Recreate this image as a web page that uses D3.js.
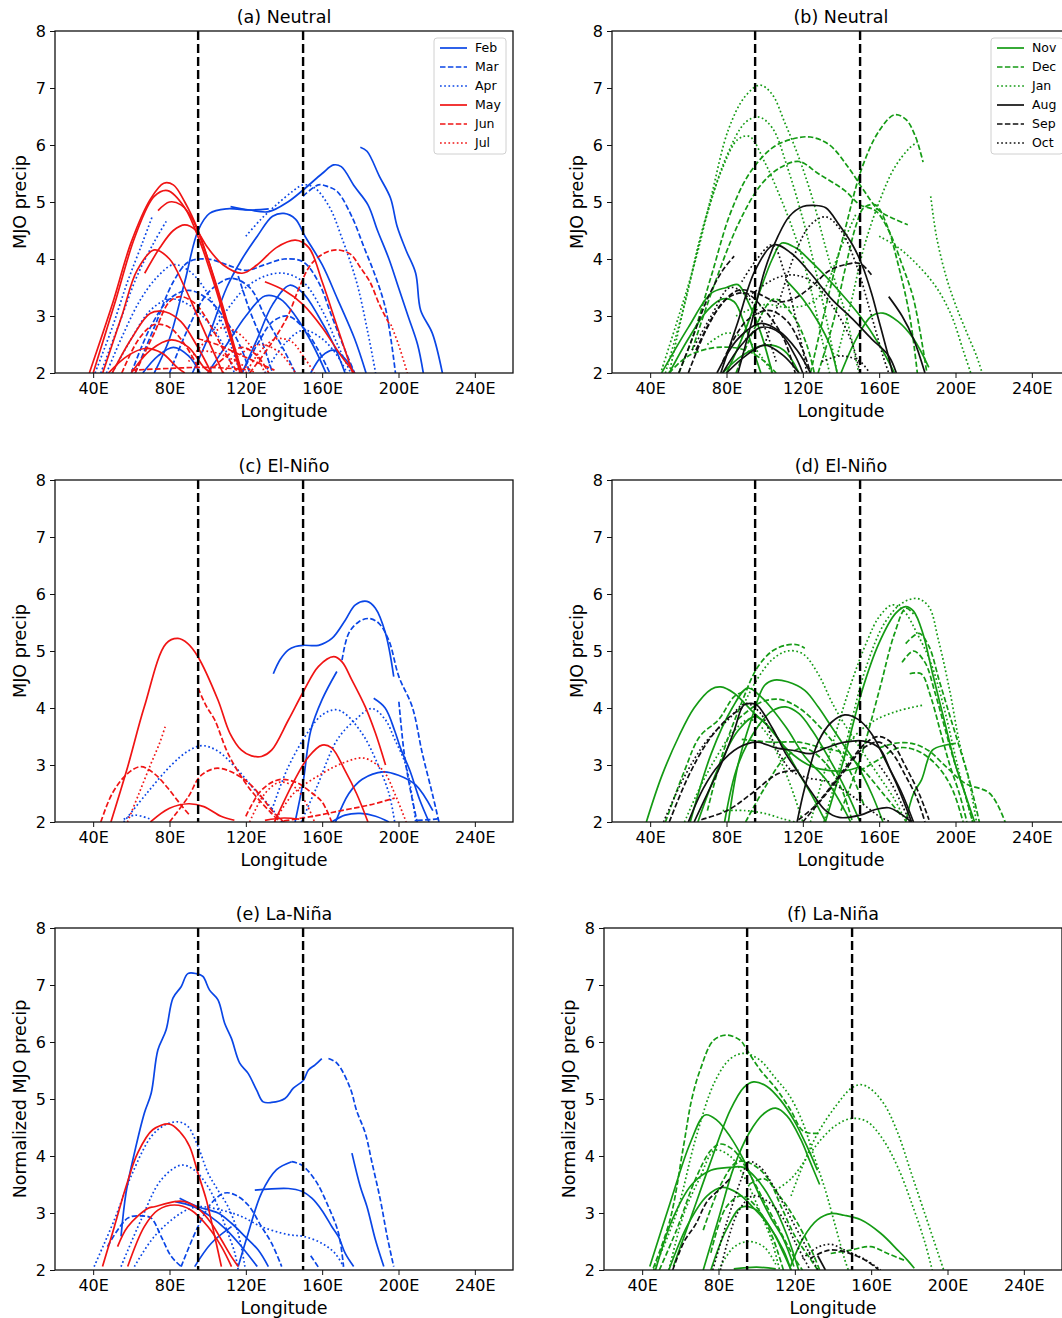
<!DOCTYPE html>
<html>
<head>
<meta charset="utf-8">
<script src="https://cdn.jsdelivr.net/npm/d3@7"></script>
<style>
  body { margin: 0; background: #fff; }
  svg { display: block; font-family: "DejaVu Sans", sans-serif; }
</style>
</head>
<body>
<svg id="chart" width="1062" height="1318"></svg>
<script>
// axis ticks and reference longitudes
var xTicks = [40, 80, 120, 160, 200, 240];
var yTicks = [2, 3, 4, 5, 6, 7, 8];
var refLons = [95, 150];
var springMonths = ['Feb', 'Mar', 'Apr', 'May', 'Jun', 'Jul'];
var winterMonths = ['Nov', 'Dec', 'Jan', 'Aug', 'Sep', 'Oct'];

// each curve: month + [longitude, MJO precip] points
var neutralSpring = [
  {m: 'Feb', p: [[180,5.96],[183.5,5.89],[190,5.45],[195.8,5.07],[199.3,4.57],[204,4.15],[209,3.75],[211.6,3.1],[217.7,2.7],[223,2.0]]},
  {m: 'Feb', p: [[112,4.92],[122,4.86],[132,4.83],[142,5.0],[150,5.21],[160,5.5],[166,5.65],[170,5.62],[177,5.27],[184,4.95],[189,4.5],[195,4.0],[200,3.5],[205,3.0],[210,2.5],[213,2.0]]},
  {m: 'Feb', p: [[72,2.0],[80,2.6],[88,3.6],[95,4.5],[101,4.8],[110,4.88],[122,4.86],[132,4.88]]},
  {m: 'Feb', p: [[92,2.0],[100,2.6],[110,3.5],[118,4.0],[126,4.4],[134,4.75],[140,4.8],[146,4.7],[151,4.4],[160,3.9],[168,3.3],[177,2.6],[183,2.0]]},
  {m: 'Feb', p: [[118,2.0],[126,2.6],[134,3.2],[143,3.54],[150,3.4],[158,3.0],[166,2.5],[172,2.0]]},
  {m: 'Feb', p: [[100,2.0],[110,2.5],[120,3.0],[130,3.35],[138,3.3],[146,3.0],[155,2.5],[162,2.0]]},
  {m: 'Feb', p: [[154,2.0],[160,2.3],[166,2.4],[172,2.25],[177,2.0]]},
  {m: 'Feb', p: [[66,2.0],[74,2.3],[82,2.45],[90,2.3],[96,2.0]]},
  {m: 'Mar', p: [[150,5.1],[158,5.3],[163,5.27],[168,5.18],[175.6,4.74],[182,4.2],[188,3.69],[193,3.16],[196,2.6],[198.4,2.0]]},
  {m: 'Mar', p: [[62,2.0],[72,2.8],[82,3.6],[90,3.95],[100,4.0],[110,3.9],[120,3.8],[130,3.9],[140,4.0],[150,3.95],[158,3.6],[165,3.0],[172,2.4],[177,2.0]]},
  {m: 'Mar', p: [[80,2.0],[90,2.8],[100,3.4],[112,3.66],[122,3.5],[130,3.0],[140,2.4],[146,2.0]]},
  {m: 'Mar', p: [[60,2.0],[70,2.8],[80,3.3],[90,3.45],[100,3.3],[110,2.9],[118,2.4],[122,2.0]]},
  {m: 'Mar', p: [[116,3.7],[122,3.1],[128,2.6],[134,2.0]]},
  {m: 'Mar', p: [[118,2.0],[126,2.5],[134,2.9],[142,3.0],[150,2.8],[158,2.4],[164,2.0]]},
  {m: 'Apr', p: [[120,4.4],[128,4.7],[136,4.95],[145,5.2],[150,5.3],[156,5.25],[164,4.9],[170,4.4],[178,3.6],[184,2.7],[188,2.0]]},
  {m: 'Apr', p: [[100,2.6],[110,3.1],[120,3.5],[130,3.7],[140,3.75],[150,3.6],[160,3.1],[168,2.5],[175,2.0]]},
  {m: 'Apr', p: [[41,2.0],[50,2.8],[58,3.6],[66,4.3],[71,4.75]]},
  {m: 'Apr', p: [[44,2.0],[54,2.9],[63,3.7],[72,4.3],[79,4.7]]},
  {m: 'Apr', p: [[47,2.0],[56,2.7],[65,3.3],[74,3.7],[82,3.9],[90,3.8],[98,3.5],[106,3.0],[112,2.5],[117,2.0]]},
  {m: 'Apr', p: [[50,2.0],[60,2.6],[70,3.1],[80,3.3],[90,3.2],[100,2.9],[108,2.5],[114,2.0]]},
  {m: 'Apr', p: [[130,2.0],[140,2.5],[150,2.75],[160,2.6],[168,2.3],[173,2.0]]},
  {m: 'May', p: [[38,2.0],[50,3.2],[60,4.3],[70,5.05],[77,5.33],[82,5.3],[88,5.0],[95,4.5],[102,3.8],[109,3.0],[113,2.5],[117,2.0]]},
  {m: 'May', p: [[40,2.0],[52,3.3],[62,4.4],[72,5.1],[79,5.2],[88,4.9],[96,4.3],[104,3.5],[112,2.6],[118,2.0]]},
  {m: 'May', p: [[74,4.85],[80,5.0],[86,4.95],[92,4.7],[98,4.2],[105,3.5],[112,2.7],[118,2.0]]},
  {m: 'May', p: [[67,3.75],[75,4.2],[82,4.5],[88,4.6],[94,4.5],[100,4.2],[108,3.9],[118,3.75],[126,3.9],[136,4.2],[146,4.33],[153,4.2],[160,3.6],[168,2.8],[176,2.0]]},
  {m: 'May', p: [[45,2.0],[55,3.0],[63,3.8],[72,4.16],[80,4.0],[88,3.5],[96,2.9],[104,2.3],[108,2.0]]},
  {m: 'May', p: [[50,2.0],[60,2.6],[70,3.05],[78,3.07],[86,2.9],[94,2.5],[102,2.0]]},
  {m: 'May', p: [[60,2.0],[70,2.4],[81,2.58],[90,2.45],[98,2.1],[102,2.0]]},
  {m: 'May', p: [[48,2.0],[58,2.3],[67,2.43],[76,2.35],[84,2.1],[88,2.0]]},
  {m: 'May', p: [[130,3.6],[140,3.45],[150,3.2],[160,2.8],[170,2.3],[177,2.0]]},
  {m: 'Jun', p: [[122,2.0],[133,2.5],[142,3.0],[148,3.5],[154,3.9],[161,4.1],[168,4.16],[175,4.08],[180,3.85],[185,3.6],[190,3.2],[195,2.87]]},
  {m: 'Jun', p: [[62,2.0],[72,2.7],[80,3.25],[86,3.34],[94,3.2],[102,2.8],[110,2.3],[116,2.0]]},
  {m: 'Jun', p: [[55,2.0],[64,2.6],[72,2.85],[80,2.8],[88,2.5],[95,2.1]]},
  {m: 'Jun', p: [[60,2.05],[80,2.08],[100,2.1],[120,2.06]]},
  {m: 'Jun', p: [[95,2.6],[105,2.5],[115,2.35],[125,2.2],[135,2.05]]},
  {m: 'Jun', p: [[100,2.0],[110,2.3],[118,2.45],[126,2.3],[132,2.0]]},
  {m: 'Jul', p: [[120,2.0],[128,2.4],[136,2.6],[144,2.55],[150,2.3],[156,2.0]]},
  {m: 'Jul', p: [[90,2.2],[100,2.6],[108,2.8],[116,2.7],[124,2.4],[130,2.0]]},
  {m: 'Jul', p: [[196,2.85],[200,2.5],[204.6,2.0]]},
  {m: 'Jul', p: [[95,2.4],[105,2.35],[115,2.2],[125,2.0]]},
  {m: 'Jul', p: [[108,2.0],[118,2.35],[128,2.5],[138,2.35],[146,2.0]]}
];

var neutralWinter = [
  {m: 'Nov', p: [[80,2.0],[88,2.6],[96,3.3],[104,4.0],[109,4.28],[116,4.2],[126,3.9],[140,3.4],[150,3.0],[160,2.5],[168,2.0]]},
  {m: 'Nov', p: [[46,2.0],[60,2.8],[72,3.4],[80,3.5],[86,3.55],[92,3.2],[98,2.7],[104,2.0]]},
  {m: 'Nov', p: [[140,2.0],[148,2.6],[156,3.0],[162,3.05],[170,2.9],[178,2.6],[186,2.1]]},
  {m: 'Nov', p: [[78,2.0],[88,2.3],[100,2.49],[110,2.4],[118,2.0]]},
  {m: 'Nov', p: [[50,2.0],[60,2.6],[70,3.1],[78,3.3],[84,3.25],[90,2.8],[96,2.2],[98,2.0]]},
  {m: 'Nov', p: [[112,3.6],[120,3.3],[128,2.9],[134,2.5],[138,2.0]]},
  {m: 'Dec', p: [[124,2.0],[133,3.3],[142,4.5],[151,5.6],[160,6.25],[168,6.53],[174,6.45],[179,6.15],[183,5.7]]},
  {m: 'Dec', p: [[55,2.0],[62,2.6],[72,3.7],[82,4.8],[92,5.5],[104,5.95],[114,6.1],[124,6.14],[134,6.0],[144,5.6],[152,5.2],[160,4.85],[168,4.7],[175,4.6]]},
  {m: 'Dec', p: [[62,2.4],[72,3.4],[86,4.6],[98,5.3],[108,5.6],[118,5.71],[128,5.5],[142,5.2],[150,4.95],[158,4.85],[165,4.5],[172,3.9],[178,3.3],[185,2.0]]},
  {m: 'Dec', p: [[128,2.0],[136,2.9],[142,3.8],[148,4.6],[152,4.9],[158,4.95],[164,4.6],[170,3.9],[176,3.0],[180,2.0]]},
  {m: 'Dec', p: [[50,2.0],[60,2.3],[75,2.45],[90,2.4],[100,2.2],[106,2.0]]},
  {m: 'Dec', p: [[85,2.0],[95,2.8],[105,3.3],[115,3.0],[122,2.5],[126,2.0]]},
  {m: 'Jan', p: [[46,2.05],[55,3.0],[63.3,3.92],[72,5.1],[81,6.27],[89.7,6.85],[97.5,7.05],[103.7,6.9],[110.7,6.38],[117.7,5.8],[124.7,5.1],[131.8,4.22],[137,3.6],[142.3,3.05],[149.3,2.0]]},
  {m: 'Jan', p: [[50,2.0],[60,3.5],[70,4.8],[80,5.8],[90,6.4],[97,6.49],[104,6.3],[112,5.6],[120,4.7],[126,3.9],[132,3.0],[138,2.0]]},
  {m: 'Jan', p: [[48,2.0],[58,3.2],[68,4.6],[78,5.6],[86,6.1],[92,6.15],[100,5.7],[108,5.1],[116,4.4],[124,3.5],[130,2.6],[134,2.0]]},
  {m: 'Jan', p: [[138,2.3],[145,3.2],[152,4.2],[160,5.0],[168,5.6],[176,5.95],[180,6.05]]},
  {m: 'Jan', p: [[187,5.1],[190,4.4],[195,3.7],[200,3.2],[206,2.7],[211,2.3],[214,2.0]]},
  {m: 'Jan', p: [[160,4.4],[170,4.2],[180,3.9],[190,3.5],[198,3.0],[204,2.4],[208,2.0]]},
  {m: 'Jan', p: [[85,3.0],[100,3.2],[112,3.15],[122,3.2],[130,3.4],[140,4.2],[148,4.8]]},
  {m: 'Jan', p: [[70,2.5],[80,2.7],[90,2.6],[98,2.3],[104,2.0]]},
  {m: 'Aug', p: [[86,2.0],[94,3.0],[100,3.8],[107,4.4],[113,4.75],[120,4.92],[126,4.94],[132,4.9],[139,4.6],[146,4.25],[151,3.9],[156,3.4],[160,2.9],[164,2.4],[167,2.0]]},
  {m: 'Aug', p: [[77,2.0],[86,2.9],[95,3.8],[105,4.25],[114,4.1],[124,3.75],[135,3.3],[146,2.95],[156,2.6],[165,2.3],[169,2.0]]},
  {m: 'Aug', p: [[75,2.0],[86,2.6],[98,2.87],[107,2.75],[117,2.4],[124,2.0]]},
  {m: 'Aug', p: [[80,2.0],[90,2.3],[100,2.49],[110,2.3],[118,2.0]]},
  {m: 'Aug', p: [[165,3.34],[172,3.0],[178,2.6],[184,2.0]]},
  {m: 'Aug', p: [[78,2.0],[88,2.5],[98,2.8],[108,2.7],[116,2.3],[120,2.0]]},
  {m: 'Sep', p: [[64,2.4],[75,3.1],[86,3.45],[96,3.4],[106,3.25],[115,3.3],[124,3.5],[134,3.8],[142,3.9],[150,3.92],[156,3.72]]},
  {m: 'Sep', p: [[55,2.0],[62,2.6],[70,3.3],[78,3.8],[84,4.05]]},
  {m: 'Sep', p: [[78,2.2],[90,2.9],[102,3.1],[112,2.9],[120,2.4],[124,2.0]]},
  {m: 'Sep', p: [[60,2.0],[70,2.8],[80,3.3],[90,3.4],[100,3.1],[110,2.6],[116,2.0]]},
  {m: 'Oct', p: [[100,2.5],[108,3.3],[116,4.1],[124,4.6],[132,4.74],[140,4.5],[148,3.9],[156,3.0],[162,2.3],[165,2.0]]},
  {m: 'Oct', p: [[88,3.6],[96,4.0],[104,4.25],[110,3.8],[116,3.0],[120,2.4],[122,2.0]]},
  {m: 'Oct', p: [[90,3.3],[105,3.65],[115,3.72],[125,3.6],[135,3.2],[145,2.6],[150,2.0]]},
  {m: 'Oct', p: [[62,2.4],[72,3.0],[82,3.5],[92,3.3],[100,2.8],[106,2.2]]},
  {m: 'Oct', p: [[130,2.2],[140,2.3],[150,2.2],[155,2.0]]}
];

var elninoSpring = [
  {m: 'Feb', p: [[134.4,4.6],[138,4.85],[142.3,5.02],[146,5.08],[150.2,5.1],[158.1,5.1],[165.1,5.22],[172.1,5.54],[177.4,5.81],[183.5,5.87],[187.9,5.75],[193.2,5.31],[197.5,4.55]]},
  {m: 'Feb', p: [[145.8,2.0],[150,2.7],[154,3.6],[160,4.15],[167.7,4.64]]},
  {m: 'Feb', p: [[187,4.17],[193,4.0],[198,3.6],[201,3.3],[206,2.9],[211,2.4],[216,2.0]]},
  {m: 'Feb', p: [[167,2.0],[174,2.5],[181,2.75],[192,2.88],[200,2.82],[209,2.65],[218,2.2]]},
  {m: 'Feb', p: [[165,2.0],[172,2.12],[180,2.15],[188,2.1],[195,2.0]]},
  {m: 'Mar', p: [[170.4,4.84],[173.9,5.31],[179.1,5.51],[184.4,5.57],[189.6,5.49],[194.9,5.19],[200.2,4.55],[207.2,4.02],[212.5,3.2],[217.7,2.5],[221.2,2.0]]},
  {m: 'Mar', p: [[200.2,4.11],[203,3.2],[206,2.6],[209.8,2.0]]},
  {m: 'Mar', p: [[209.8,2.03],[216,2.04],[221.2,2.06]]},
  {m: 'Apr', p: [[56,2.0],[68,2.5],[81,3.0],[90,3.25],[97,3.34],[105,3.25],[114,2.98],[125,2.55],[132,2.3],[139,2.0]]},
  {m: 'Apr', p: [[133,2.15],[142,2.95],[153,3.6],[160,3.88],[167,3.97],[172,3.9],[181,3.55],[188,3.1],[195,2.5],[198,2.0]]},
  {m: 'Apr', p: [[149,2.0],[157,2.6],[168,3.45],[177,3.78],[186,3.99],[193,3.8],[198,3.45],[204,2.98],[209,2.0]]},
  {m: 'Apr', p: [[56,2.05],[62,2.12],[70,2.05]]},
  {m: 'May', p: [[49.3,2.0],[58.1,2.97],[66.8,4.02],[78.2,5.13],[84.4,5.22],[89.6,5.13],[94.9,4.9],[105.4,4.14],[111.6,3.56],[117.7,3.26],[123,3.16],[128.2,3.15],[133.5,3.26],[142.3,3.79],[150.2,4.29],[158.1,4.73],[166,4.9],[170.4,4.81],[175.6,4.49],[182.6,4.02],[187.9,3.56],[193.2,3.0]]},
  {m: 'May', p: [[135,2.0],[145,2.7],[153,3.15],[160,3.35],[165,3.3],[172,2.9],[178,2.5],[184,2.0]]},
  {m: 'May', p: [[70,2.0],[80,2.24],[90,2.32],[98,2.27],[107,2.1],[114,2.03]]},
  {m: 'May', p: [[130,2.03],[140,2.07],[148,2.05]]},
  {m: 'Jun', p: [[44,2.0],[50,2.5],[58,2.85],[65,2.97],[72,2.85],[79,2.6],[86,2.3],[91,2.1]]},
  {m: 'Jun', p: [[80,2.0],[90,2.45],[96,2.8],[104,2.94],[111,2.9],[121,2.7],[128,2.45],[135,2.15],[140,2.0]]},
  {m: 'Jun', p: [[95,4.35],[99,4.05],[103.7,3.79],[110.7,3.2],[121.2,2.62],[133.5,2.15],[138,2.0]]},
  {m: 'Jun', p: [[120,2.1],[128,2.55],[137,2.74],[146,2.7],[155,2.5],[160,2.35],[165,2.0]]},
  {m: 'Jun', p: [[140,2.02],[155,2.1],[170,2.2],[185,2.3],[198,2.42]]},
  {m: 'Jul', p: [[58,2.0],[64,2.5],[70,3.0],[75,3.4],[78,3.7]]},
  {m: 'Jul', p: [[135,2.0],[145,2.5],[160,2.85],[172,3.05],[182,3.12],[192,2.9],[198,2.5],[204,2.0]]},
  {m: 'Jul', p: [[122,2.0],[130,2.5],[138,2.7],[146,2.6],[152,2.3],[156,2.0]]}
];

var elninoWinter = [
  {m: 'Nov', p: [[38,2.0],[46,2.8],[55,3.5],[63,4.0],[72,4.33],[77,4.37],[84,4.26],[93,3.96],[102,3.67],[111,3.3],[118,3.1],[125,2.97],[134,2.9],[142,2.9],[150,2.97]]},
  {m: 'Nov', p: [[81,2.0],[86,3.0],[93,3.8],[100,4.4],[105,4.49],[112,4.46],[121,4.31],[128,4.02],[135,3.67],[142,3.32],[149,2.97],[156,2.5],[162,2.0]]},
  {m: 'Nov', p: [[61,2.0],[72,3.2],[83,4.0],[91,4.35],[98,4.2],[111,3.67],[121,3.15],[132,2.75],[142,2.2],[145,2.0]]},
  {m: 'Nov', p: [[79,2.0],[86,3.0],[97,3.7],[104,3.95],[111,4.02],[118,3.9],[125,3.6],[134,3.1],[142,2.6],[150,2.0]]},
  {m: 'Nov', p: [[65,2.0],[76,2.97],[86,3.6],[95,3.85],[104,3.6],[111,3.26],[118,2.85],[125,2.45],[132,2.0]]},
  {m: 'Nov', p: [[131.8,2.0],[142.3,3.2],[151,4.3],[159.8,5.13],[168.6,5.66],[173.9,5.78],[178,5.7],[183,5.3],[188,4.6],[194,3.8],[200,3.0],[206,2.4],[210,2.0]]},
  {m: 'Nov', p: [[173.9,2.0],[178,2.5],[182.2,2.74],[187.9,3.26],[194.9,3.35],[200.2,3.38]]},
  {m: 'Dec', p: [[70,2.2],[78,3.2],[88,4.1],[96,4.7],[104,5.0],[111,5.1],[117,5.11],[121,5.05]]},
  {m: 'Dec', p: [[140,2.2],[150,3.1],[160,4.3],[168,5.3],[174,5.75],[178,5.65]]},
  {m: 'Dec', p: [[173.9,5.13],[180.9,5.31],[186.1,5.08],[191.4,4.49],[196.7,3.9],[202,3.32],[207.2,2.74],[212.5,2.0]]},
  {m: 'Dec', p: [[172,4.8],[178,5.0],[184,4.8],[189,4.3],[194,3.7],[199,3.1],[204,2.6],[209,2.0]]},
  {m: 'Dec', p: [[176,4.6],[182,4.6],[187,4.2],[192,3.6],[197,3.0],[202,2.5],[206,2.0]]},
  {m: 'Dec', p: [[160,3.3],[168,3.38],[177,3.38],[186,3.25],[195,2.97],[205,2.68],[218,2.5],[226,2.0]]},
  {m: 'Dec', p: [[86,3.8],[98,4.1],[108,4.15],[118,4.0],[128,3.7],[138,3.3],[146,2.8],[152,2.3]]},
  {m: 'Dec', p: [[88,3.45],[104,3.4],[118,3.4],[130,3.3],[142,3.2],[152,2.9],[162,2.5],[172,2.1]]},
  {m: 'Dec', p: [[48,2.0],[58,2.9],[66,3.5],[76,3.8],[84,4.2],[90,4.3]]},
  {m: 'Dec', p: [[150,2.9],[160,3.1],[170,3.3],[180,3.25],[190,3.0],[198,2.6],[204,2.0]]},
  {m: 'Dec', p: [[90,2.0],[100,2.6],[110,3.1],[120,3.3],[130,3.1],[140,2.6],[146,2.0]]},
  {m: 'Jan', p: [[131,2.0],[142,3.3],[153,4.7],[163,5.5],[172,5.84],[180,5.92],[186,5.78],[191,5.2],[197,4.3],[202,3.4],[207,2.74],[211,2.0]]},
  {m: 'Jan', p: [[124,2.0],[135,3.3],[145,4.4],[154,5.2],[160,5.6],[167,5.81],[173,5.7],[180,5.3],[187,4.8],[194,4.0],[201,3.0],[209,2.0]]},
  {m: 'Jan', p: [[88,4.0],[96,4.5],[104,4.85],[112,5.0],[120,4.95],[128,4.6],[136,4.05],[144,3.6],[152,3.2],[160,2.8],[168,2.4],[174,2.0]]},
  {m: 'Jan', p: [[142,3.32],[150,3.6],[158,3.79],[170,3.95],[183,4.05]]},
  {m: 'Jan', p: [[78,2.2],[90,2.2],[100,2.15],[110,2.05],[116,2.0]]},
  {m: 'Jan', p: [[58,2.0],[66,2.6],[74,3.1],[84,3.6],[92,3.8],[100,3.6],[108,3.1],[114,2.6],[120,2.0]]},
  {m: 'Aug', p: [[63,2.0],[70,2.5],[77,3.0],[84,3.6],[89,4.05],[93,4.08],[96,4.05],[104,3.65],[111,3.2],[118,2.85],[125,2.5],[132,2.2],[139,2.08],[150,2.12],[158,2.22],[165,2.25],[171,2.15],[177,2.0]]},
  {m: 'Aug', p: [[117,2.0],[121,2.6],[128,3.4],[135,3.75],[142,3.88],[149,3.8],[156,3.55],[163,3.1],[170,2.6],[177,2.0]]},
  {m: 'Aug', p: [[60,2.0],[68,2.6],[76,3.0],[86,3.3],[96,3.4],[106,3.3],[116,3.25],[124,3.2],[132,3.3],[142,3.4],[152,3.42],[160,3.3],[166,2.9],[172,2.5],[178,2.0]]},
  {m: 'Sep', p: [[66.8,2.04],[80.9,2.21],[93.2,2.5],[107.2,2.85],[117.7,2.91]]},
  {m: 'Sep', p: [[117.7,2.04],[126,2.27],[140,2.85],[152.8,3.38],[159.8,3.5],[166.8,3.38],[173.9,2.97],[180.9,2.5],[186.1,2.04]]},
  {m: 'Sep', p: [[120,2.0],[130,2.4],[142,2.9],[152,3.3],[160,3.4],[167,3.2],[174,2.8],[180,2.4],[184,2.0]]},
  {m: 'Sep', p: [[50,2.0],[60,2.8],[70,3.4],[80,3.8],[88,4.0]]},
  {m: 'Oct', p: [[47,2.0],[58,2.8],[70,3.44],[81,3.8],[90,4.08],[98,3.9],[106,3.3],[114,2.9],[122,2.78],[134,2.7],[144,2.5],[152,2.3],[160,2.1],[166,2.0]]},
  {m: 'Oct', p: [[160,3.0],[166,2.7],[172,2.3],[176,2.0]]}
];

var laninaSpring = [
  {m: 'Feb', p: [[54.6,2.59],[57.2,3.35],[61.6,4.05],[66.8,4.75],[70.4,5.1],[73.9,5.86],[78.2,6.21],[81.8,6.77],[86.1,6.97],[89.6,7.2],[94,7.2],[97.5,7.15],[101,6.91],[105.4,6.74],[108.9,6.33],[112.5,6.06],[116.8,5.63],[121.2,5.45],[125.6,5.16],[129.1,4.95],[133.5,4.94],[140.5,5.01],[144.9,5.19],[150.2,5.33],[152.8,5.51],[156.3,5.6],[159.8,5.71]]},
  {m: 'Feb', p: [[124.7,3.4],[142.3,3.43],[149.3,3.38],[154.6,3.26],[159.8,3.05],[165.1,2.76],[168.6,2.58],[172.1,2.29],[176.5,2.06]]},
  {m: 'Feb', p: [[116,2.06],[121.2,2.64],[128.2,3.35],[136.1,3.76],[144,3.9]]},
  {m: 'Feb', p: [[175.6,4.05],[180,3.46],[183.5,3.11],[187.9,2.53],[192.3,2.06]]},
  {m: 'Feb', p: [[85.3,3.26],[94.9,3.11],[105.4,3.0],[112.5,2.82],[119.5,2.59],[126.5,2.35],[131.8,2.06]]},
  {m: 'Feb', p: [[83,3.2],[92,3.12],[101,2.95],[110,2.7],[118,2.4],[126,2.06]]},
  {m: 'Feb', p: [[93.2,2.06],[101.9,2.47],[112.5,2.76]]},
  {m: 'Mar', p: [[163.3,5.71],[167.7,5.63],[174.7,5.19],[178,4.8],[182.6,4.4],[186,3.9],[190.5,3.23],[194,2.6],[197.5,2.06]]},
  {m: 'Mar', p: [[47.5,2.41],[58.1,2.91],[65.1,2.95],[70.4,2.91],[75.6,2.59],[80.9,2.24],[86.1,2.06]]},
  {m: 'Mar', p: [[86.1,2.06],[94.9,2.76],[101.9,3.17],[108.9,3.35],[114.2,3.32],[121.2,3.14],[128.2,2.76],[133.5,2.47],[138.8,2.06]]},
  {m: 'Mar', p: [[144,3.9],[149.3,3.84],[156.3,3.58],[163.3,3.11],[168.6,2.64],[171.2,2.06]]},
  {m: 'Mar', p: [[154,2.25],[158,2.05]]},
  {m: 'Apr', p: [[40.5,2.06],[51.1,2.88],[59.8,3.64],[70.4,4.34],[77.4,4.54],[84.4,4.6],[89.6,4.52],[94.9,4.17],[100.2,3.7],[105.4,3.4],[110.7,3.11],[116,2.64],[119.5,2.06]]},
  {m: 'Apr', p: [[54.6,2.06],[65.1,2.88],[75.6,3.58],[86.1,3.84],[93.2,3.75],[100.2,3.46],[105.4,3.11],[110,2.7],[114.2,2.3],[116,2.0]]},
  {m: 'Apr', p: [[61.6,2.06],[72.1,2.59],[86.1,3.0],[94.9,3.11],[107.2,3.05],[117.7,2.94],[128.2,2.76],[142.3,2.62],[150.2,2.59],[159.8,2.47],[166.8,2.29],[171.2,2.06]]},
  {m: 'May', p: [[44.9,2.06],[51.1,2.76],[57.2,3.46],[63.3,4.05],[71.2,4.46],[80,4.56],[85.3,4.43],[90.5,4.17],[94.9,3.7],[99.3,3.23],[103.7,2.59],[107.2,2.06]]},
  {m: 'May', p: [[52.8,2.41],[58.1,2.76],[68.6,3.08],[72.1,3.11],[82.6,3.2],[87.9,3.2],[94.9,3.08],[101.9,2.82],[107.2,2.53],[112.5,2.23],[116,2.06]]},
  {m: 'May', p: [[58.1,2.06],[66.8,2.76],[73.9,3.05],[82.6,3.14],[91.4,3.05],[100.2,2.76],[107.2,2.41],[112.5,2.06]]}
];

var laninaWinter = [
  {m: 'Nov', p: [[56.3,2.06],[65.1,2.88],[75.6,3.87],[86.1,4.8],[93.2,5.2],[98.4,5.3],[105.4,5.22],[112.5,4.98],[119.5,4.63],[126.5,4.16],[131.8,3.75]]},
  {m: 'Nov', p: [[72,2.0],[80,2.9],[88,3.8],[96,4.4],[104,4.75],[110,4.84],[116,4.7],[123,4.3],[128,3.9],[133,3.5]]},
  {m: 'Nov', p: [[44,2.06],[54.6,3.17],[65.1,4.22],[73,4.72],[79.1,4.63],[86.1,4.34],[93.2,3.93],[100.2,3.4],[107.2,2.93],[114.2,2.53],[119.5,2.06]]},
  {m: 'Nov', p: [[47,2.0],[56,2.9],[66,3.5],[76,3.75],[86,3.8],[93,3.8],[100,3.6],[108,3.2],[116,2.6],[122,2.0]]},
  {m: 'Nov', p: [[54,2.0],[64,2.8],[74,3.3],[82,3.45],[90,3.35],[98,3.1],[106,2.8],[114,2.35],[118,2.0]]},
  {m: 'Nov', p: [[76,2.0],[84,2.7],[92,3.1],[100,3.05],[108,2.7],[114,2.3],[118,2.0]]},
  {m: 'Nov', p: [[117.7,2.06],[124.7,2.58],[131.8,2.88],[138.8,2.99],[145.8,2.96],[154.6,2.88],[165.1,2.64],[173.9,2.35],[179.1,2.17],[182.6,2.03]]},
  {m: 'Nov', p: [[88,2.02],[100,2.05],[110,2.02]]},
  {m: 'Dec', p: [[45.8,2.03],[54.6,2.88],[61.6,4.16],[66,5.0],[70.4,5.51],[77.4,6.03],[84.4,6.12],[91.4,6.03],[94.9,5.86],[101.9,5.51],[110.7,5.16],[117.7,4.81],[124.7,4.43],[133.5,4.4]]},
  {m: 'Dec', p: [[49,2.0],[58,2.7],[68,3.6],[76,4.1],[81,4.21],[88,4.1],[96,3.7],[104,3.2],[112,2.7],[120,2.2],[124,2.0]]},
  {m: 'Dec', p: [[72,2.7],[82,3.55],[90,3.9],[98,3.85],[106,3.6],[113,3.1],[120,2.6],[128,2.2],[132,2.0]]},
  {m: 'Dec', p: [[138.8,2.29],[149.3,2.35],[159.8,2.41],[168.6,2.29],[177.4,2.17]]},
  {m: 'Dec', p: [[76,2.3],[84,3.1],[92,3.3],[100,3.1],[108,2.6],[114,2.0]]},
  {m: 'Dec', p: [[96,3.5],[104,3.6],[112,3.3],[120,2.9],[128,2.4],[133,2.0]]},
  {m: 'Jan', p: [[46,2.0],[58,3.0],[68,4.3],[78,5.3],[86,5.7],[93,5.8],[101,5.7],[110,5.36],[117,5.07],[124,4.6],[130,4.0],[136,3.4],[141,2.8],[146,2.2],[148,2.0]]},
  {m: 'Jan', p: [[118,3.3],[125,3.9],[132,4.4],[142,4.9],[150,5.2],[155,5.25],[160,5.17],[167,4.9],[174,4.4],[181,3.7],[188,3.0],[195,2.3],[198,2.0]]},
  {m: 'Jan', p: [[110,3.4],[118,3.6],[126,3.95],[134,4.3],[142,4.55],[150,4.66],[158,4.6],[166,4.3],[174,3.8],[182,3.1],[188,2.5],[192,2.0]]},
  {m: 'Jan', p: [[54,2.0],[62,3.0],[70,3.6],[78,4.1],[86,4.0],[94,3.6],[102,3.0],[108,2.5],[112,2.0]]},
  {m: 'Jan', p: [[80,2.0],[88,2.4],[96,2.5],[104,2.4],[110,2.1]]},
  {m: 'Aug', p: [[132,2.25],[136,2.0]]},
  {m: 'Sep', p: [[56,2.0],[62,2.5],[68,2.8],[74,3.2],[80,3.4],[86,3.6]]},
  {m: 'Sep', p: [[128,2.2],[138,2.35],[148,2.3],[158,2.15],[164,2.0]]},
  {m: 'Oct', p: [[77,2.0],[84,2.8],[92,3.6],[96,3.9],[102,3.8],[110,3.4],[118,2.9],[126,2.4],[132,2.0]]},
  {m: 'Oct', p: [[81,2.0],[90,3.0],[98,3.3],[106,3.2],[114,2.9],[120,2.5],[128,2.0]]},
  {m: 'Oct', p: [[124,2.2],[132,2.4],[139,2.45],[146,2.35],[156,2.2],[165,2.0]]}
];

// ---- styling ----
var BLUE = '#0a46e6', RED = '#f01414', GREEN = '#149b14', BLACK = '#111';
var DASH = '5.5,2.4', DOT = '1.7,2.5';
var monthStyle = {
  Feb: {c: BLUE, d: null}, Mar: {c: BLUE, d: DASH}, Apr: {c: BLUE, d: DOT},
  May: {c: RED, d: null},  Jun: {c: RED, d: DASH},  Jul: {c: RED, d: DOT},
  Nov: {c: GREEN, d: null}, Dec: {c: GREEN, d: DASH}, Jan: {c: GREEN, d: DOT},
  Aug: {c: BLACK, d: null}, Sep: {c: BLACK, d: DASH}, Oct: {c: BLACK, d: DOT}
};

var panels = [
  {title: '(a) Neutral',  ylab: 'MJO precip', x: 55,  y: 31,  curves: neutralSpring, legend: springMonths},
  {title: '(b) Neutral',  ylab: 'MJO precip', x: 612, y: 31,  curves: neutralWinter, legend: winterMonths},
  {title: '(c) El-Niño',  ylab: 'MJO precip', x: 55,  y: 480, curves: elninoSpring},
  {title: '(d) El-Niño',  ylab: 'MJO precip', x: 612, y: 480, curves: elninoWinter},
  {title: '(e) La-Niña',  ylab: 'Normalized MJO precip', x: 55,  y: 928, curves: laninaSpring},
  {title: '(f) La-Niña',  ylab: 'Normalized MJO precip', x: 604, y: 928, curves: laninaWinter}
];
var W = 458, H = 342;

var svg = d3.select('#chart');

var x = d3.scaleLinear().domain([20, 260]).range([0, W]);
var y = d3.scaleLinear().domain([2, 8]).range([H, 0]);
var line = d3.line()
  .x(function (d) { return x(d[0]); })
  .y(function (d) { return y(d[1]); })
  .curve(d3.curveCatmullRom.alpha(0.5));

panels.forEach(function (pn, i) {
  var g = svg.append('g').attr('transform', 'translate(' + pn.x + ',' + pn.y + ')');

  svg.append('clipPath').attr('id', 'clip' + i)
    .append('rect').attr('width', W).attr('height', H);

  var plot = g.append('g').attr('clip-path', 'url(#clip' + i + ')');

  plot.selectAll('path.curve')
    .data(pn.curves)
    .enter().append('path')
    .attr('class', 'curve')
    .attr('d', function (d) { return line(d.p); })
    .attr('fill', 'none')
    .attr('stroke', function (d) { return monthStyle[d.m].c; })
    .attr('stroke-width', 1.7)
    .attr('stroke-dasharray', function (d) { return monthStyle[d.m].d; });

  plot.selectAll('line.ref')
    .data(refLons)
    .enter().append('line')
    .attr('class', 'ref')
    .attr('x1', function (d) { return x(d); })
    .attr('x2', function (d) { return x(d); })
    .attr('y1', 0).attr('y2', H)
    .attr('stroke', '#000')
    .attr('stroke-width', 2.4)
    .attr('stroke-dasharray', '9,4');

  // frame
  g.append('rect').attr('width', W).attr('height', H)
    .attr('fill', 'none').attr('stroke', '#111').attr('stroke-width', 1.3);

  var xa = g.append('g').attr('transform', 'translate(0,' + H + ')')
    .call(d3.axisBottom(x).tickValues(xTicks).tickFormat(function (d) { return d + 'E'; })
      .tickSize(5).tickPadding(5));
  var ya = g.append('g')
    .call(d3.axisLeft(y).tickValues(yTicks).tickFormat(d3.format('d')).tickSize(5).tickPadding(4));
  [xa, ya].forEach(function (a) {
    a.select('.domain').remove();
    a.selectAll('text').attr('font-size', 16).attr('font-family', '"DejaVu Sans", sans-serif').attr('fill', '#000');
    a.selectAll('line').attr('stroke', '#111');
  });

  g.append('text').attr('x', W / 2).attr('y', -8)
    .attr('text-anchor', 'middle').attr('font-size', 17.5).text(pn.title);
  g.append('text').attr('x', W / 2).attr('y', H + 44)
    .attr('text-anchor', 'middle').attr('font-size', 17.5).text('Longitude');
  g.append('text')
    .attr('transform', 'translate(' + (-29) + ',' + (H / 2) + ') rotate(-90)')
    .attr('text-anchor', 'middle').attr('font-size', 17.5).text(pn.ylab);

  if (pn.legend) {
    var lw = 72, lh = 116;
    var lg = g.append('g').attr('transform', 'translate(' + (W - lw - 7) + ',7)');
    lg.append('rect').attr('width', lw).attr('height', lh).attr('rx', 3)
      .attr('fill', '#fff').attr('fill-opacity', 0.85)
      .attr('stroke', '#d0d0d0');
    var row = lg.selectAll('g.row').data(pn.legend).enter().append('g')
      .attr('class', 'row')
      .attr('transform', function (d, k) { return 'translate(0,' + (10 + k * 19) + ')'; });
    row.append('line').attr('x1', 6).attr('x2', 33)
      .attr('stroke', function (d) { return monthStyle[d].c; })
      .attr('stroke-width', 1.7)
      .attr('stroke-dasharray', function (d) { return monthStyle[d].d; });
    row.append('text').attr('x', 41).attr('dy', '0.35em')
      .attr('font-size', 12.5).text(function (d) { return d; });
  }
});
</script>
</body>
</html>
